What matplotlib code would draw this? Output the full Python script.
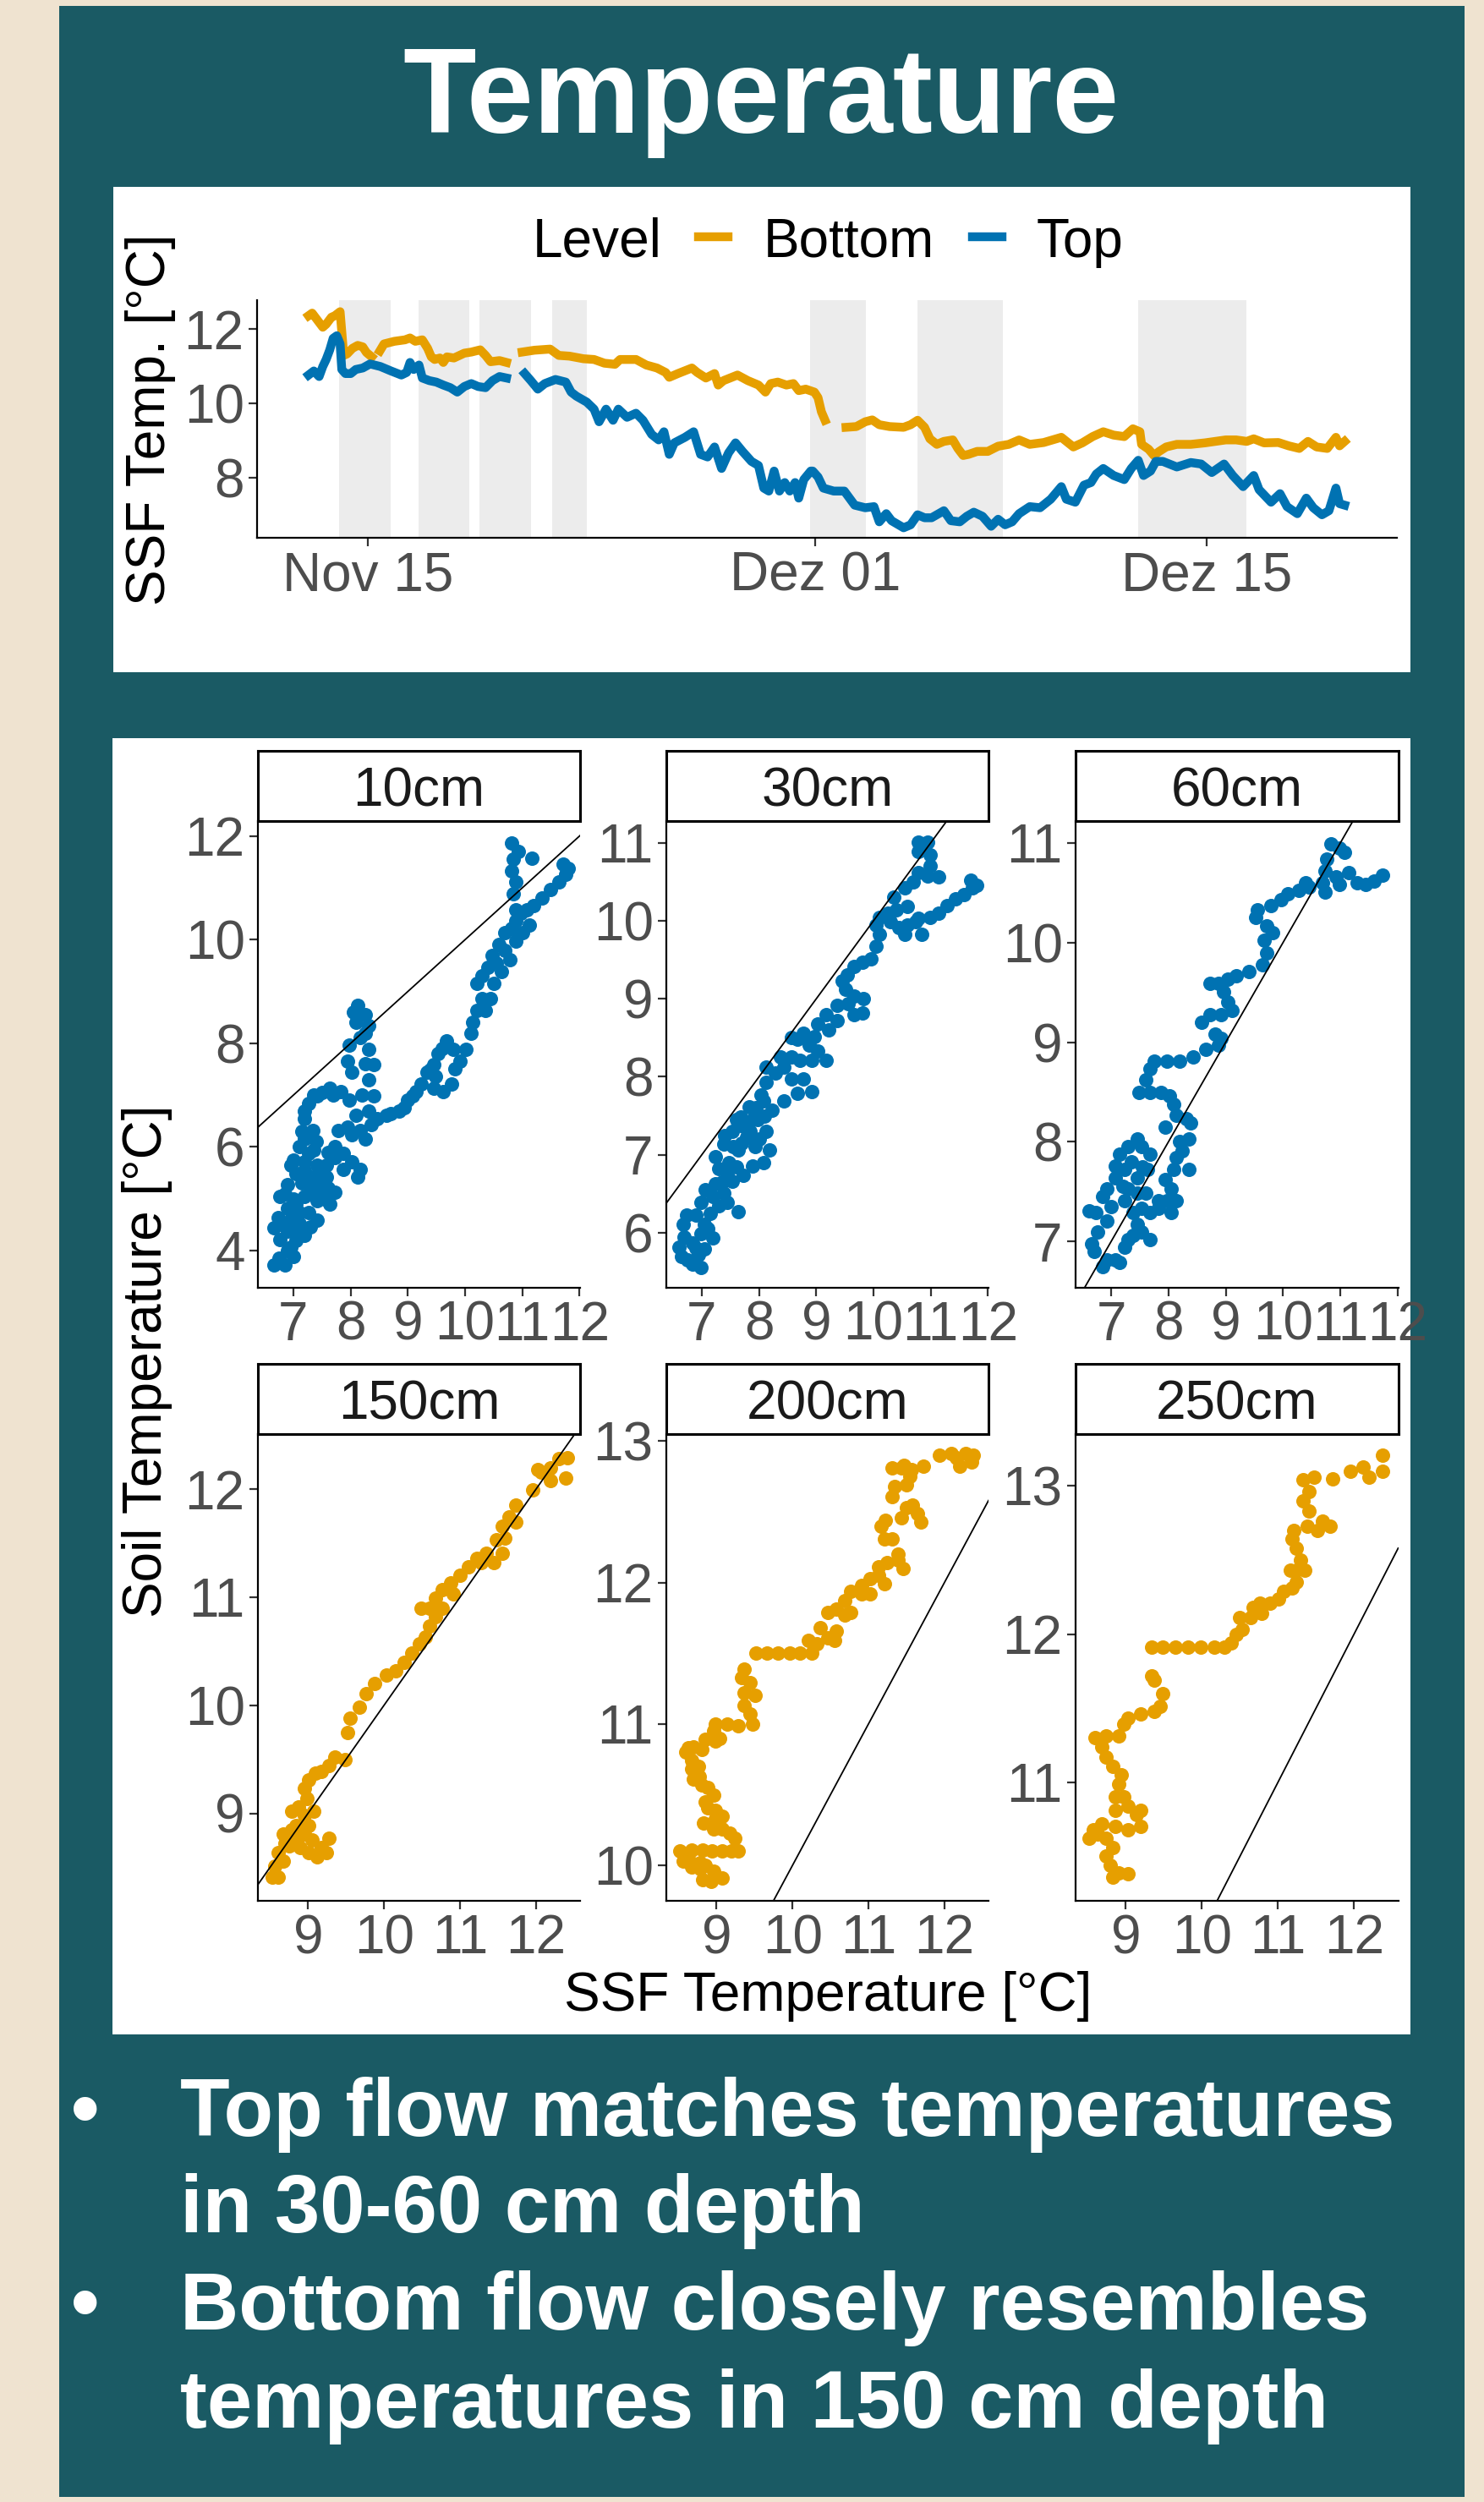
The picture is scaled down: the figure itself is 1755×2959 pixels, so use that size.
import numpy as np
import pandas as pd
import matplotlib.pyplot as plt
from matplotlib.lines import Line2D
from matplotlib.patches import Rectangle

plt.rcParams['font.family'] = ['Liberation Sans', 'DejaVu Sans']

nan = np.nan

# SSF outflow temperature, days after 15 Nov (nan = logger gap)
bottom_day = [-2.12, -1.99, -1.80, -1.61, -1.49, -1.30, -1.18, -0.99, -0.86, -0.74, -0.55, -0.36,
              -0.18, -0.05, 0.14, 0.28, 0.43, 0.58, 0.95, 1.33, 1.51, 1.70, 1.95, 2.14, 2.27, 2.39,
              2.58, 2.70, 2.83, 3.08, 3.45, 3.70, 4.02, 4.21, 4.39, 4.71, 4.96, 5.20, 5.52, 5.96,
              6.52, 6.83, 7.21, 7.71, 8.09, 8.46, 8.84, 9.02, 9.59, 9.96, 10.34, 10.65, 10.78,
              11.09, 11.59, 11.78, 12.09, 12.40, 12.53, 12.72, 13.22, 13.59, 13.97, 14.22, 14.41,
              14.66, 14.97, 15.22, 15.41, 15.66, 15.97, 16.10, 16.22, 16.35, 16.70, 17.10, 17.47,
              17.79, 18.04, 18.29, 18.66, 19.16, 19.41, 19.66, 19.91, 20.10, 20.35, 20.60, 20.92,
              21.10, 21.29, 21.48, 21.79, 22.17, 22.54, 22.92, 23.29, 23.67, 24.17, 24.80, 25.23,
              25.55, 25.92, 26.30, 26.67, 27.05, 27.36, 27.61, 27.67, 27.92, 28.11, 28.30, 28.55,
              28.93, 29.43, 29.93, 30.68, 31.05, 31.43, 31.68, 32.05, 32.56, 32.93, 33.31, 33.62,
              33.93, 34.31, 34.62, 34.75, 34.93]
bottom_temp = [12.36, 12.43, 12.24, 12.05, 12.13, 12.32, 12.36, 12.47, 11.29, 11.33, 11.48, 11.56,
               11.52, 11.37, 11.25, nan, 11.41, 11.60, 11.67, 11.71, 11.76, 11.67, 11.71, 11.48,
               11.25, 11.18, 11.22, 11.10, 11.25, 11.22, 11.35, 11.38, 11.44, 11.29, 11.12, 11.15,
               11.10, nan, 11.38, 11.43, 11.46, 11.29, 11.27, 11.20, 11.18, 11.08, 11.05, 11.18,
               11.18, 11.03, 10.95, 10.83, 10.70, 10.80, 10.95, 10.83, 10.68, 10.80, 10.49, 10.61,
               10.76, 10.61, 10.49, 10.30, 10.53, 10.57, 10.49, 10.53, 10.34, 10.38, 10.30, 10.15,
               9.77, 9.54, nan, 9.35, 9.37, 9.50, 9.55, 9.42, 9.37, 9.35, 9.42, 9.54, 9.35, 9.04,
               8.89, 8.97, 9.01, 8.78, 8.59, 8.62, 8.70, 8.70, 8.84, 8.89, 9.01, 8.89, 8.94, 9.08,
               8.82, 8.93, 9.10, 9.23, 9.14, 9.10, 9.31, 9.23, 8.89, 8.76, 8.59, 8.70, 8.82, 8.89,
               8.89, 8.93, 9.01, 9.01, 8.97, 9.04, 8.93, 8.94, 8.85, 8.78, 8.97, 8.82, 8.78, 9.08,
               8.85, 8.97]
top_day = [-2.12, -1.93, -1.74, -1.61, -1.49, -1.36, -1.24, -1.11, -0.99, -0.93, -0.80, -0.61,
           -0.43, -0.18, 0.08, 0.45, 0.83, 1.20, 1.39, 1.51, 1.64, 1.83, 1.95, 2.20, 2.45, 2.70,
           2.95, 3.20, 3.45, 3.70, 3.95, 4.21, 4.46, 4.71, 4.96, 5.30, 5.61, 5.83, 6.08, 6.33,
           6.71, 7.08, 7.27, 7.46, 7.83, 8.09, 8.27, 8.52, 8.77, 8.96, 9.27, 9.59, 9.84, 10.15,
           10.40, 10.59, 10.78, 10.96, 11.34, 11.65, 11.90, 12.15, 12.40, 12.65, 12.90, 13.15,
           13.40, 13.72, 13.97, 14.16, 14.34, 14.53, 14.72, 14.91, 15.09, 15.28, 15.41, 15.59,
           15.84, 15.91, 16.10, 16.29, 16.66, 17.04, 17.41, 17.79, 18.10, 18.29, 18.54, 18.73,
           19.16, 19.41, 19.66, 19.91, 20.16, 20.60, 20.85, 21.17, 21.42, 21.67, 21.98, 22.29,
           22.54, 22.79, 23.04, 23.29, 23.67, 24.04, 24.42, 24.80, 24.98, 25.30, 25.61, 25.86,
           26.05, 26.30, 26.67, 27.05, 27.30, 27.55, 27.74, 27.99, 28.18, 28.43, 28.93, 29.43,
           29.80, 30.18, 30.62, 30.93, 31.30, 31.68, 31.87, 32.30, 32.62, 32.87, 33.24, 33.56,
           33.81, 34.12, 34.37, 34.62, 34.75, 34.93]
top_temp = [10.76, 10.87, 10.72, 10.99, 11.18, 11.44, 11.75, 11.82, 11.60, 10.91, 10.80, 10.80,
            10.91, 10.95, 11.06, 10.99, 10.87, 10.76, 10.83, 11.10, 10.91, 11.03, 10.68, 10.61,
            10.57, 10.49, 10.42, 10.30, 10.45, 10.53, 10.45, 10.42, 10.61, 10.72, 10.68, nan,
            10.80, 10.61, 10.38, 10.53, 10.64, 10.57, 10.30, 10.19, 10.03, 9.84, 9.50, 9.84, 9.54,
            9.84, 9.62, 9.73, 9.54, 9.16, 9.01, 9.23, 8.62, 8.93, 9.08, 9.23, 8.62, 8.55, 8.82,
            8.24, 8.66, 8.93, 8.70, 8.43, 8.32, 7.71, 7.63, 8.17, 7.63, 7.86, 7.63, 7.86, 7.44,
            7.94, 8.17, 8.17, 8.01, 7.71, 7.63, 7.63, 7.25, 7.18, 7.21, 6.80, 7.02, 6.83, 6.64,
            6.72, 6.99, 6.91, 6.91, 7.10, 6.83, 6.80, 6.95, 7.06, 6.95, 6.68, 6.87, 6.72, 6.80,
            7.02, 7.21, 7.18, 7.41, 7.75, 7.41, 7.33, 7.79, 7.86, 8.09, 8.24, 8.05, 7.94, 8.24,
            8.46, 8.05, 8.17, 8.43, 8.43, 8.28, 8.40, 8.36, 8.13, 8.36, 8.05, 7.75, 8.05, 7.67,
            7.33, 7.56, 7.21, 7.02, 7.44, 7.18, 6.99, 7.10, 7.71, 7.29, 7.25]

# shaded periods, days after 15 Nov
event_start = [-1.03, 1.81, 3.99, 6.58, 15.82, 19.65, 27.56]
event_end = [0.81, 3.63, 5.83, 7.82, 17.82, 22.71, 31.42]

date_ticks = ['2021-11-15', '2021-12-01', '2021-12-15']
date_labels = ['Nov 15', 'Dez 01', 'Dez 15']
levels = ['Bottom', 'Top']

# SSF temperature vs. soil temperature at each depth (SSF, soil)
pts_10cm = [(6.66, 3.73), (6.85, 3.73), (7.00, 3.88), (6.96, 4.07), (6.77, 4.22), (6.66, 4.44),
            (6.74, 4.63), (6.89, 4.82), (6.77, 5.04), (6.89, 5.27), (7.04, 5.49), (6.96, 5.64),
            (7.19, 5.72), (7.34, 5.42), (7.49, 5.19), (7.64, 4.89), (7.72, 5.12), (7.57, 5.42),
            (7.42, 5.64), (7.26, 5.87), (7.11, 6.01), (7.19, 6.16), (7.34, 6.31), (7.19, 6.54),
            (7.26, 6.84), (7.42, 6.99), (7.64, 7.14), (7.83, 7.06), (7.98, 6.91), (8.10, 6.61),
            (8.17, 6.31), (8.32, 6.69), (8.40, 6.99), (8.32, 7.29), (8.40, 7.59), (8.32, 7.89),
            (8.17, 8.11), (7.98, 7.96), (7.94, 7.66), (8.02, 7.44), (8.10, 8.41), (8.25, 8.56),
            (8.32, 8.34), (8.13, 8.73), (7.11, 4.52), (7.26, 4.74), (7.42, 4.97), (7.19, 5.04),
            (7.00, 4.37), (6.89, 4.37), (7.42, 4.59), (7.11, 4.74), (7.57, 5.64), (7.72, 5.79),
            (7.87, 5.87), (8.02, 5.72), (8.17, 5.57), (8.13, 5.42), (7.87, 5.57), (7.72, 6.01),
            (7.79, 6.31), (7.94, 6.39), (8.02, 6.24), (7.30, 5.10), (7.50, 5.50), (7.00, 5.00),
            (7.60, 5.90), (7.40, 6.10), (6.75, 3.85), (6.90, 4.00), (7.05, 4.20), (7.20, 4.30),
            (7.30, 4.45), (6.80, 4.50), (6.95, 4.60), (7.05, 4.90), (6.85, 5.10), (7.15, 5.30),
            (7.30, 5.25), (7.45, 5.35), (7.60, 5.20), (7.55, 5.00), (7.20, 5.55), (7.00, 5.75),
            (7.35, 5.95), (7.15, 6.30), (7.20, 6.70), (7.35, 7.00), (7.50, 7.05), (7.70, 7.00),
            (8.20, 7.00), (8.25, 7.60), (8.25, 8.20), (8.05, 8.60),
            (8.25, 6.16), (8.36, 6.43), (8.47, 6.54), (8.62, 6.61),
            (8.85, 6.69), (8.93, 6.76), (9.00, 6.91), (9.15, 7.06), (9.23, 7.21), (9.34, 7.44),
            (9.45, 7.59), (9.53, 7.81), (9.68, 8.04), (9.79, 7.89), (9.83, 7.51), (9.76, 7.21),
            (9.61, 7.06), (9.45, 7.14), (9.49, 7.36), (9.91, 7.66), (10.02, 7.89), (10.10, 8.19),
            (10.13, 8.41), (10.21, 8.64), (10.29, 8.86), (10.21, 9.16), (10.29, 9.31), (10.40, 9.46),
            (10.47, 9.69), (10.59, 9.91), (10.70, 10.13), (10.81, 10.21), (10.89, 9.98),
            (10.78, 9.61), (10.63, 9.39), (10.51, 9.16), (10.44, 8.86), (10.36, 8.64),
            (10.89, 10.36), (10.97, 10.51), (11.08, 10.58), (11.12, 10.28), (11.00, 10.13),
            (10.89, 10.58), (10.85, 10.88), (10.89, 11.11), (10.81, 11.33), (10.85, 11.56),
            (10.81, 11.86), (10.93, 11.71), (11.17, 11.58), (11.19, 10.66), (11.34, 10.81),
            (11.49, 10.96), (11.64, 11.11), (11.76, 11.26), (11.80, 11.37), (11.72, 11.45),
            (8.70, 6.65), (9.08, 6.98), (9.40, 7.50), (9.60, 7.90), (10.55, 9.55), (10.70, 9.80)]
pts_30cm = [(6.99, 5.56), (6.84, 5.60), (6.64, 5.70), (6.60, 5.81), (6.69, 5.95), (6.67, 6.11),
            (6.74, 6.23), (6.89, 6.23), (7.04, 6.11), (7.19, 5.93), (7.04, 5.79), (6.94, 5.72),
            (6.84, 5.87), (6.99, 5.99), (6.99, 6.39), (7.06, 6.55), (7.24, 6.63), (7.39, 6.51),
            (7.63, 6.27), (7.44, 6.39), (7.19, 6.47), (7.29, 6.82), (7.24, 6.98), (7.39, 7.14),
            (7.53, 7.30), (7.68, 7.49), (7.83, 7.61), (7.98, 7.45), (8.13, 7.30), (8.18, 7.06),
            (8.08, 6.90), (7.88, 6.86), (7.73, 6.74), (7.53, 6.66), (7.48, 6.90), (7.63, 7.06),
            (7.78, 7.22), (7.93, 7.10), (7.73, 7.37), (7.88, 7.45), (8.03, 7.77), (8.13, 7.93),
            (8.28, 8.05), (8.43, 8.13), (8.57, 7.97), (8.77, 7.97), (8.92, 7.81), (8.67, 7.79),
            (8.43, 7.69), (8.23, 7.57), (8.08, 7.69), (8.13, 8.13), (8.38, 8.25), (8.57, 8.25),
            (6.75, 5.65), (6.90, 5.80), (7.10, 6.05), (7.15, 6.25), (7.30, 6.35), (7.35, 6.65),
            (7.45, 6.75), (7.60, 6.85), (7.55, 7.10), (7.70, 7.15), (7.85, 7.30), (8.00, 7.20),
            (7.95, 7.60), (8.10, 7.50), (7.60, 7.45), (7.40, 7.25),
            (8.72, 8.21), (8.92, 8.21), (9.17, 8.21), (9.02, 8.33), (8.87, 8.41), (8.67, 8.48),
            (8.57, 8.50), (8.77, 8.56), (8.97, 8.52), (9.02, 8.68), (9.22, 8.60), (9.37, 8.72),
            (9.17, 8.80), (9.37, 8.92), (9.56, 8.94), (9.66, 8.80), (9.81, 8.82), (9.83, 9.00),
            (9.66, 9.04), (9.51, 9.12), (9.46, 9.23), (9.54, 9.31), (9.66, 9.41), (9.81, 9.47),
            (9.96, 9.51), (10.05, 9.67), (10.10, 9.83), (10.05, 9.95), (10.10, 10.04),
            (10.25, 10.10), (10.40, 10.14), (10.30, 9.99), (10.45, 9.91), (10.55, 9.83),
            (10.59, 9.95), (10.74, 9.99), (10.84, 9.83), (10.79, 10.03), (10.99, 10.04),
            (11.14, 10.10), (11.28, 10.20), (11.43, 10.28), (11.58, 10.34), (11.73, 10.42),
            (11.80, 10.46), (11.70, 10.52), (10.35, 10.30), (10.55, 10.42), (10.59, 10.18),
            (10.69, 10.50), (10.79, 10.62), (10.94, 10.58), (11.14, 10.56), (10.99, 10.70),
            (10.99, 10.85), (10.89, 10.97), (10.79, 11.01), (10.94, 11.01), (10.79, 10.89)]
pts_60cm = [(6.85, 6.75), (6.70, 6.90), (6.66, 6.98), (6.77, 7.10), (6.92, 7.21), (6.74, 7.29),
            (6.62, 7.31), (6.85, 7.45), (6.92, 7.53), (7.08, 7.64), (7.23, 7.72), (7.08, 7.76),
            (7.15, 7.88), (7.30, 7.95), (7.45, 8.03), (7.53, 7.95), (7.68, 7.88), (7.64, 7.72),
            (7.45, 7.64), (7.30, 7.53), (7.23, 7.41), (7.38, 7.29), (7.53, 7.33), (7.68, 7.29),
            (7.83, 7.33), (8.05, 7.29), (7.98, 7.41), (8.13, 7.41), (8.05, 7.53), (7.94, 7.62),
            (8.09, 7.72), (8.13, 7.84), (8.36, 7.72), (8.24, 7.91), (8.36, 8.03), (8.39, 8.19),
            (8.32, 8.23), (8.13, 8.27), (8.09, 8.38), (8.02, 8.46), (7.87, 8.50), (7.68, 8.50),
            (7.49, 8.50), (7.60, 8.62), (7.68, 8.73), (7.75, 8.81), (7.98, 8.81), (8.20, 8.81),
            (8.43, 8.85), (8.66, 8.93), (8.88, 8.97), (8.92, 9.04), (8.81, 9.08), (8.58, 9.20),
            (8.73, 9.28), (8.92, 9.28), (9.11, 9.32), (9.03, 9.40), (8.96, 9.51), (8.73, 9.59),
            (8.88, 9.59), (9.03, 9.63), (9.18, 9.67), (9.41, 9.71), (9.64, 9.78), (9.71, 9.90),
            (9.67, 10.02), (9.82, 10.10), (9.71, 10.17), (9.52, 10.25), (9.56, 10.33),
            (9.79, 10.37), (9.97, 10.43), (10.09, 10.49), (10.28, 10.52), (10.39, 10.60),
            (10.46, 10.56), (10.69, 10.60), (10.73, 10.72), (10.77, 10.84), (10.84, 10.99),
            (10.99, 10.95), (11.07, 10.91), (11.14, 10.70), (11.29, 10.60), (11.44, 10.58),
            (11.59, 10.62), (11.74, 10.68), (10.73, 10.51), (10.92, 10.66), (10.99, 10.58),
            (7.45, 7.49), (7.60, 7.49), (7.45, 7.17), (7.30, 7.02), (7.23, 6.94), (7.08, 6.82),
            (7.15, 6.79), (6.92, 6.82), (7.38, 7.06), (7.53, 7.10), (7.68, 7.02), (7.83, 7.41),
            (7.00, 7.35), (7.20, 7.55), (7.35, 7.80), (7.55, 7.75), (8.20, 8.00), (7.95, 8.15)]
pts_150cm = [(8.53, 8.41), (8.61, 8.41), (8.56, 8.51), (8.67, 8.56), (8.61, 8.64), (8.70, 8.72),
             (8.67, 8.81), (8.78, 8.85), (8.84, 8.89), (8.78, 9.02), (8.87, 9.06), (8.95, 8.98),
             (9.01, 8.89), (8.95, 8.81), (8.90, 8.68), (9.01, 8.64), (9.12, 8.60), (9.24, 8.64),
             (9.27, 8.77), (9.18, 8.68), (9.07, 9.02), (8.98, 9.14), (8.95, 9.23), (9.01, 9.31),
             (9.10, 9.37), (9.18, 9.39), (9.27, 9.44), (9.35, 9.52), (9.49, 9.50), (9.52, 9.75),
             (9.55, 9.88), (9.68, 9.98), (9.76, 10.11), (9.88, 10.20), (10.03, 10.28),
             (10.15, 10.32), (10.26, 10.40), (10.37, 10.48), (10.46, 10.57), (10.54, 10.63),
             (10.60, 10.73), (10.68, 10.82), (10.49, 10.90), (10.60, 10.90), (10.77, 10.90),
             (10.68, 10.99), (10.77, 11.07), (10.88, 11.13), (11.00, 11.20), (10.91, 11.03),
             (11.11, 11.28), (11.22, 11.36), (11.34, 11.41), (11.28, 11.32), (11.45, 11.32),
             (11.56, 11.41), (11.48, 11.53), (11.56, 11.66), (11.65, 11.74), (11.73, 11.85),
             (11.73, 11.70), (11.59, 11.55), (11.96, 11.99), (12.07, 12.16), (12.19, 12.20),
             (12.30, 12.28), (12.41, 12.29), (12.39, 12.10), (12.19, 12.08), (12.13, 12.16),
             (12.02, 12.18), (8.75, 8.70), (8.85, 8.75), (9.05, 8.75)]
pts_200cm = [(8.82, 9.90), (8.93, 9.89), (9.07, 9.91), (8.96, 9.96), (8.78, 9.98), (8.67, 9.99),
             (8.56, 10.03), (8.63, 10.05), (8.78, 10.02), (8.85, 10.00), (8.52, 10.10),
             (8.67, 10.11), (8.82, 10.11), (8.94, 10.10), (9.07, 10.10), (9.20, 10.10),
             (9.29, 10.10), (9.24, 10.19), (9.18, 10.23), (9.07, 10.26), (8.96, 10.26),
             (8.83, 10.30), (8.98, 10.33), (9.07, 10.35), (8.99, 10.39), (8.88, 10.41),
             (8.85, 10.45), (8.96, 10.50), (8.88, 10.55), (8.81, 10.57), (8.77, 10.63),
             (8.70, 10.61), (8.67, 10.68), (8.76, 10.70), (8.67, 10.74), (8.60, 10.80),
             (8.63, 10.83), (8.70, 10.84), (8.81, 10.82), (8.85, 10.89), (8.98, 10.88),
             (9.04, 10.90), (8.96, 10.95), (8.99, 11.00), (9.14, 11.00), (9.29, 10.99),
             (9.48, 11.00), (9.44, 11.07), (9.36, 11.13), (9.36, 11.22), (9.51, 11.20),
             (9.44, 11.29), (9.33, 11.33), (9.36, 11.39), (9.52, 11.50), (9.66, 11.50),
             (9.81, 11.50), (9.96, 11.50), (10.10, 11.50), (10.25, 11.50), (10.21, 11.59),
             (10.32, 11.57), (10.36, 11.68), (10.47, 11.61), (10.55, 11.59), (10.58, 11.66),
             (10.47, 11.79), (10.58, 11.81), (10.69, 11.77), (10.77, 11.79), (10.69, 11.87),
             (10.77, 11.94), (10.91, 11.92), (11.02, 11.92), (10.91, 11.98), (11.02, 12.03),
             (11.13, 12.05), (11.21, 11.99), (11.13, 12.11), (11.24, 12.14), (11.39, 12.16),
             (11.46, 12.10), (11.39, 12.20), (11.21, 12.31), (11.17, 12.40), (11.22, 12.44),
             (11.31, 12.31), (11.43, 12.46), (11.50, 12.53), (11.65, 12.49), (11.69, 12.43),
             (11.58, 12.55), (11.31, 12.61), (11.35, 12.68), (11.50, 12.69), (11.54, 12.75),
             (11.43, 12.81), (11.31, 12.81), (11.47, 12.83), (11.57, 12.80), (11.72, 12.82),
             (11.94, 12.90), (12.09, 12.91), (12.20, 12.82), (12.28, 12.91), (12.38, 12.90),
             (12.36, 12.85), (12.16, 12.88)]
pts_250cm = [(8.83, 10.36), (8.91, 10.39), (9.03, 10.38), (8.80, 10.44), (8.74, 10.50),
             (8.83, 10.56), (8.74, 10.62), (8.63, 10.65), (8.52, 10.62), (8.57, 10.68),
             (8.69, 10.72), (8.86, 10.70), (9.03, 10.68), (9.20, 10.70), (9.14, 10.78),
             (9.20, 10.81), (9.03, 10.84), (8.86, 10.81), (8.86, 10.90), (8.97, 10.90),
             (8.91, 10.99), (8.94, 11.05), (8.83, 11.11), (8.74, 11.17), (8.69, 11.24),
             (8.60, 11.30), (8.74, 11.31), (8.91, 11.31), (8.97, 11.39), (9.03, 11.43),
             (9.20, 11.46), (9.37, 11.48), (9.45, 11.51), (9.48, 11.60), (9.37, 11.69),
             (9.34, 11.72), (9.34, 11.91), (9.48, 11.91), (9.65, 11.91), (9.82, 11.91),
             (9.99, 11.91), (10.16, 11.91), (10.30, 11.91), (10.39, 11.94), (10.45, 12.00),
             (10.53, 12.03), (10.50, 12.11), (10.64, 12.11), (10.79, 12.14), (10.67, 12.18),
             (10.76, 12.21), (10.90, 12.21), (11.01, 12.24), (11.07, 12.29), (11.18, 12.31),
             (11.24, 12.35), (11.16, 12.43), (11.35, 12.43), (11.24, 12.43), (11.30, 12.50),
             (11.24, 12.58), (11.18, 12.64), (11.21, 12.70), (11.38, 12.73), (11.52, 12.70),
             (11.69, 12.73), (11.58, 12.76), (11.41, 12.83), (11.33, 12.90), (11.41, 12.96),
             (11.33, 13.04), (11.47, 13.06), (11.72, 13.05), (11.95, 13.10), (12.12, 13.13),
             (12.20, 13.06), (12.37, 13.10), (12.37, 13.21)]

depths = ['10cm', '30cm', '60cm', '150cm', '200cm', '250cm']
depth_points = [pts_10cm, pts_30cm, pts_60cm, pts_150cm, pts_200cm, pts_250cm]
depth_level = ['Top', 'Top', 'Top', 'Bottom', 'Bottom', 'Bottom']

bullets = ['Top flow matches temperatures', 'in 30-60 cm depth',
           'Bottom flow closely resembles', 'temperatures in 150 cm depth']

# ---- styling / layout (pixel units of the 1755 x 2959 canvas) ----
W, H = 1755, 2959
BEIGE = '#efe3d0'
TEAL = '#1a5a64'
GREY = '#4d4d4d'
colors = {'Bottom': '#E69F00', 'Top': '#0072B2'}
FS = 46
LW = 7.5


def rect(x0, y0, x1, y1):
    return [x0 / W, 1 - y1 / H, (x1 - x0) / W, (y1 - y0) / H]


def fx(x):
    return x / W


def fy(y):
    return 1 - y / H


def classic(ax):
    for s in ['top', 'right']:
        ax.spines[s].set_visible(False)
    for s in ['left', 'bottom']:
        ax.spines[s].set_linewidth(1.6)
        ax.spines[s].set_color('black')
    ax.tick_params(length=7, width=1.6, color='#333333', labelcolor=GREY,
                   labelsize=FS, pad=4)
    ax.set_facecolor('white')


base = pd.Timestamp('2021-11-15')


def to_time(days):
    return base + pd.to_timedelta(days, unit='D')


fig = plt.figure(figsize=(W / 100, H / 100), dpi=100, facecolor=BEIGE)
fig.add_artist(Rectangle((fx(70), fy(2953)), (1732 - 70) / W, (2953 - 7) / H,
                         transform=fig.transFigure, facecolor=TEAL, edgecolor='none', zorder=-3))
for x0, y0, x1, y1 in [(134, 221, 1668, 795), (133, 873, 1668, 2406)]:
    fig.add_artist(Rectangle((fx(x0), fy(y1)), (x1 - x0) / W, (y1 - y0) / H,
                             transform=fig.transFigure, facecolor='white',
                             edgecolor='none', zorder=-2))

fig.text(fx(900), fy(157), 'Temperature', color='white', fontsize=102,
         fontweight='bold', ha='center', va='baseline')

# ---- SSF time series ----
ax = fig.add_axes(rect(304, 355, 1652, 636))
classic(ax)
for s, e in zip(event_start, event_end):
    ax.axvspan(base + pd.Timedelta(days=s), base + pd.Timedelta(days=e),
               color='#ececec', lw=0, zorder=0)
ax.plot(to_time(bottom_day), bottom_temp, color=colors['Bottom'], lw=LW,
        solid_joinstyle='round', zorder=2)
ax.plot(to_time(top_day), top_temp, color=colors['Top'], lw=LW,
        solid_joinstyle='round', zorder=3)
ax.set_xlim(base + pd.Timedelta(days=-3.96), base + pd.Timedelta(days=36.8))
ax.set_ylim(6.37, 12.78)
ax.set_yticks([8, 10, 12])
ax.set_xticks(pd.to_datetime(date_ticks))
ax.set_xticklabels(date_labels)
fig.text(fx(178), fy(496), 'SSF Temp. [°C]', rotation=90, fontsize=FS,
         ha='center', va='center')

# legend row
fig.text(fx(630), fy(304), 'Level', fontsize=FS, va='baseline')
for lvl, kx, tx in zip(levels, [826, 1150], [903, 1226]):
    fig.add_artist(Line2D([fx(kx), fx(kx + 35)], [fy(280), fy(280)], lw=LW,
                          color=colors[lvl], transform=fig.transFigure))
    fig.text(fx(tx), fy(304), lvl, fontsize=FS, va='baseline')

# ---- soil vs SSF temperature facets ----
cols = [(305, 686), (788, 1169), (1272, 1653.5)]
rows = [(887.5, 971, 1522.5), (1613, 1696, 2248)]
row_xlim = [(6.38, 12.01), (8.34, 12.58)]
row_xticks = [[7, 8, 9, 10, 11, 12], [9, 10, 11, 12]]
panel_ylim = [(3.29, 12.29), (5.30, 11.28), (6.54, 11.22),
              (8.19, 12.51), (9.75, 13.05), (10.20, 13.35)]
panel_yticks = [[4, 6, 8, 10, 12], [6, 7, 8, 9, 10, 11], [7, 8, 9, 10, 11],
                [9, 10, 11, 12], [10, 11, 12, 13], [11, 12, 13]]

for i, (name, pts, lvl) in enumerate(zip(depths, depth_points, depth_level)):
    r, c = divmod(i, 3)
    x0, x1 = cols[c]
    s_top, p_top, p_bot = rows[r]
    pax = fig.add_axes(rect(x0, p_top, x1, p_bot))
    classic(pax)
    ssf, soil = np.array(pts).T
    pax.scatter(ssf, soil, s=150, color=colors[lvl], linewidths=0, zorder=2)
    pax.axline((0, 0), slope=1, color='black', lw=1.3, zorder=3)
    pax.set_xlim(*row_xlim[r])
    pax.set_ylim(*panel_ylim[i])
    pax.set_xticks(row_xticks[r])
    pax.set_yticks(panel_yticks[i])

    sax = fig.add_axes(rect(x0, s_top, x1, p_top))
    sax.set_xticks([])
    sax.set_yticks([])
    sax.set_facecolor('white')
    for sp in sax.spines.values():
        sp.set_linewidth(2.2)
    sax.text(0.5, 0.21, name, transform=sax.transAxes, ha='center', va='baseline',
             fontsize=FS, color='#1a1a1a')

fig.text(fx(174), fy(1610), 'Soil Temperature [°C]', rotation=90, fontsize=FS,
         ha='center', va='center')
fig.text(fx(979), fy(2378), 'SSF Temperature [°C]', fontsize=FS, ha='center',
         va='baseline')

# ---- take-home bullets ----
for line, base_y in zip(bullets, [2526, 2640, 2755, 2871]):
    fig.text(fx(213), fy(base_y), line, color='white', fontsize=69,
             fontweight='bold', va='baseline')
for base_y in [2526, 2755]:
    fig.text(fx(84), fy(base_y), '•', color='white', fontsize=69,
             fontweight='bold', va='baseline')

fig.savefig('out.png', dpi=100, facecolor=BEIGE)
